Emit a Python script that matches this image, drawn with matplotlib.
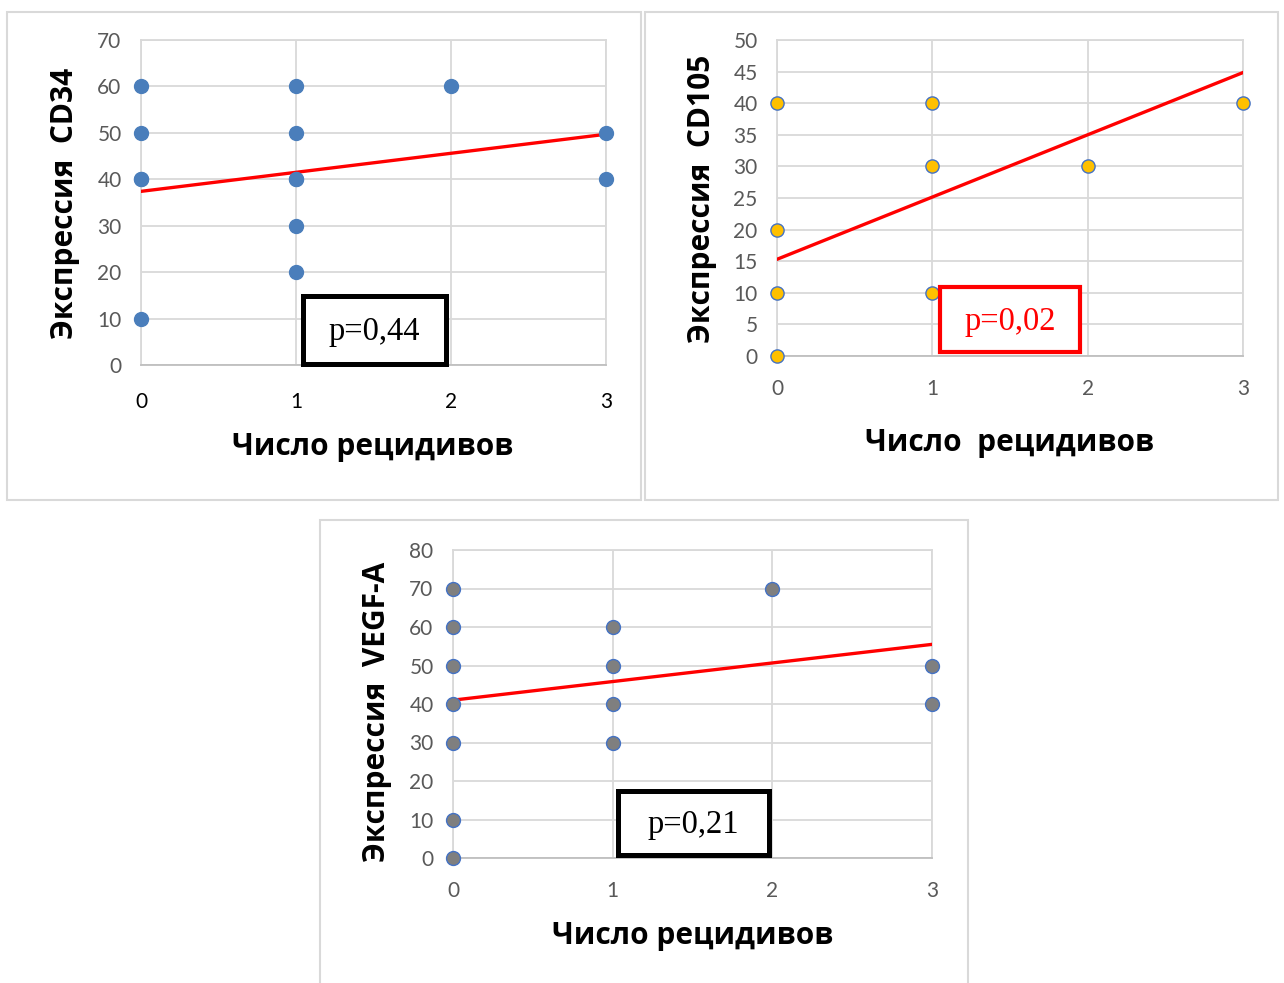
import matplotlib
matplotlib.use('Agg')
import matplotlib.pyplot as plt
from matplotlib.patches import Rectangle
import numpy as np

# данные
relapses = [0, 1, 2, 3]

cd34_x = [0, 0, 0, 0, 0, 1, 1, 1, 1, 1, 1, 2, 3, 3]
cd34_y = [60, 50, 40, 40, 10, 60, 50, 40, 40, 30, 20, 60, 50, 40]
cd34_trend = [37.4, 4.1]      # intercept, slope
cd34_p = "p=0,44"

cd105_x = [0, 0, 0, 0, 1, 1, 1, 2, 3]
cd105_y = [40, 20, 10, 0, 40, 30, 10, 30, 40]
cd105_trend = [15.3, 9.85]
cd105_p = "p=0,02"

vegf_x = [0, 0, 0, 0, 0, 0, 0, 1, 1, 1, 1, 2, 3, 3]
vegf_y = [70, 60, 50, 40, 30, 10, 0, 60, 50, 40, 30, 70, 50, 40]
vegf_trend = [41.0, 4.83]
vegf_p = "p=0,21"

W, H = 1284, 983
fig = plt.figure(figsize=(W / 100, H / 100), dpi=100)

BOLD = ['Open Sans', 'DejaVu Sans']
NUM = ['Lato', 'DejaVu Sans']
GRID = '#D9D9D9'
LBL = 21.5


def px_rect(x0, y0, x1, y1):
    return [x0 / W, 1 - y1 / H, (x1 - x0) / W, (y1 - y0) / H]


def fx(x):
    return x / W


def fy(y):
    return 1 - y / H


def frame(x0, y0, x1, y1):
    fig.patches.append(Rectangle((fx(x0), fy(y1)), (x1 - x0) / W, (y1 - y0) / H,
                                 transform=fig.transFigure, fill=False,
                                 edgecolor=GRID, lw=1.5))


def panel(box, xs, ys, trend, ymax, ystep, fc, ec, ms, xtick_color, xpad):
    ax = fig.add_axes(px_rect(*box))
    ax.scatter(xs, ys, s=ms ** 2, c=fc, edgecolors=ec, linewidths=1.0, zorder=4, clip_on=False)
    tx = np.array([relapses[0], relapses[-1]])
    ax.plot(tx, trend[0] + trend[1] * tx, color='#FF0000', lw=2.4, zorder=3)
    ax.set_xlim(0, 3)
    ax.set_ylim(0, ymax)
    ax.set_xticks(relapses)
    ax.set_yticks(np.arange(0, ymax + 1, ystep))
    ax.grid(True, color=GRID, lw=1.3)
    ax.set_axisbelow(True)
    for s in ax.spines.values():
        s.set_color(GRID)
        s.set_linewidth(1.3)
    ax.spines['bottom'].set_color('#BFBFBF')
    ax.tick_params(length=0)
    ax.tick_params(axis='y', pad=14, labelcolor='#595959', labelsize=15)
    ax.tick_params(axis='x', pad=xpad, labelcolor=xtick_color, labelsize=15)
    for lab in ax.get_xticklabels() + ax.get_yticklabels():
        lab.set_family(NUM)
    return ax


def pbox(x0, y0, x1, y1, text, color, lw):
    fig.patches.append(Rectangle((fx(x0), fy(y1)), (x1 - x0) / W, (y1 - y0) / H,
                                 transform=fig.transFigure, facecolor='white',
                                 edgecolor=color, lw=lw, zorder=10))
    fig.text(fx((x0 + x1) / 2), fy((y0 + y1) / 2 + 2), text, color=color,
             family=['Liberation Serif', 'DejaVu Serif'], fontsize=23.5,
             ha='center', va='center', zorder=11)


# рамки
frame(7, 12, 641, 500)
frame(645, 12, 1278, 500)
frame(320, 520, 968, 990)

# CD34
panel((141, 40, 606, 365), cd34_x, cd34_y, cd34_trend, 70, 10,
      '#4A7EBB', '#4A7EBB', 10, '#000000', 19.5)
fig.text(fx(65), fy(203), "Экспрессия  CD34", rotation=90, ha='center', va='center',
         family=BOLD, fontweight='bold', fontsize=LBL)
fig.text(fx(373), fy(447), "Число рецидивов", ha='center', va='center',
         family=BOLD, fontweight='bold', fontsize=LBL)
pbox(303, 296, 446, 364, cd34_p, '#000000', 3.6)

# CD105
panel((777, 40, 1243, 356), cd105_x, cd105_y, cd105_trend, 50, 5,
      '#FFC000', '#4472C4', 9.5, '#595959', 16.5)
fig.text(fx(702), fy(199), "Экспрессия  CD105", rotation=90, ha='center', va='center',
         family=BOLD, fontweight='bold', fontsize=LBL)
fig.text(fx(1010), fy(443), "Число  рецидивов", ha='center', va='center',
         family=BOLD, fontweight='bold', fontsize=LBL)
pbox(940, 287, 1080, 352, cd105_p, '#FF0000', 3.0)

# VEGF-A
panel((453, 550, 932, 858), vegf_x, vegf_y, vegf_trend, 80, 10,
      '#7F7F7F', '#4472C4', 10, '#595959', 16.5)
fig.text(fx(377), fy(712), "Экспрессия  VEGF-A", rotation=90, ha='center', va='center',
         family=BOLD, fontweight='bold', fontsize=LBL)
fig.text(fx(693), fy(936), "Число рецидивов", ha='center', va='center',
         family=BOLD, fontweight='bold', fontsize=LBL)
pbox(618, 791, 769, 855, vegf_p, '#000000', 3.6)

fig.savefig('out.png', dpi=100)
